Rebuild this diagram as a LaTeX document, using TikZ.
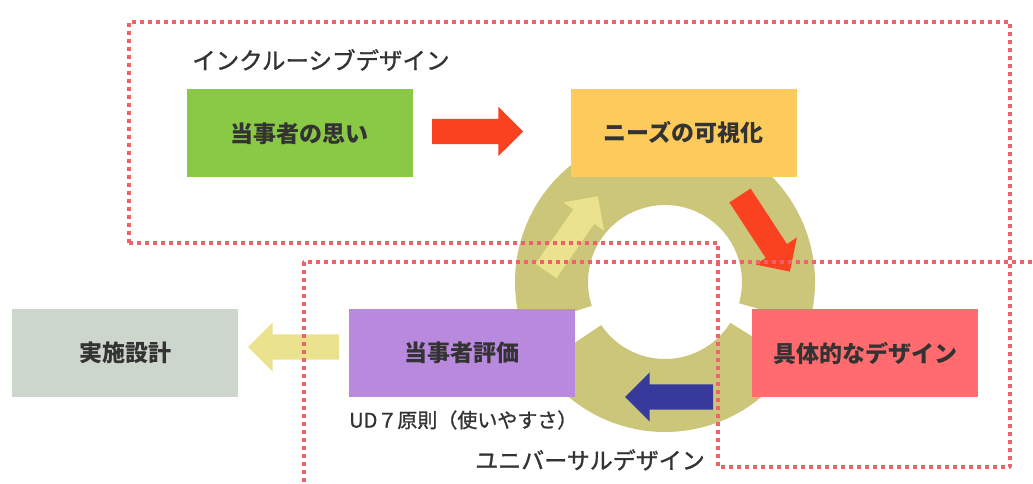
\documentclass[tikz,border=0pt]{standalone}
\usepackage{fontspec}
\setmainfont{Noto Sans CJK JP}
\newfontfamily\midfont[FakeBold=1.2]{Noto Sans CJK JP}
\usetikzlibrary{shapes.arrows}
\definecolor{ink}{RGB}{51,51,51}
\definecolor{leaf}{RGB}{138,201,70}
\definecolor{sun}{RGB}{253,203,92}
\definecolor{rose}{RGB}{255,107,110}
\definecolor{lilac}{RGB}{185,137,222}
\definecolor{sage}{RGB}{205,214,204}
\definecolor{ringcol}{RGB}{204,198,122}
\definecolor{arrred}{RGB}{250,66,32}
\definecolor{navy}{RGB}{55,58,155}
\definecolor{pale}{RGB}{234,226,140}
\definecolor{dotred}{RGB}{238,98,108}

\begin{document}
\begin{tikzpicture}[line join=round,x=1pt,y=1pt,
  box/.style={minimum width=226pt,minimum height=88pt,inner sep=0pt,text=ink,
    font=\fontsize{23}{23}\selectfont\bfseries},
  blk/.style={single arrow,minimum height=91pt,inner xsep=0pt,inner ysep=12.5pt,
    single arrow head extend=12pt,outer sep=0pt,anchor=tail},
  zone/.style={draw=dotred,line width=3.5pt,dash pattern=on 4pt off 4pt},
  lbl/.style={text=ink,inner sep=0pt,font=\fontsize{23.5}{23.5}\selectfont\midfont}]
\clip (0,0) rectangle (1033,484);
\fill[white] (0,0) rectangle (1033,484);
% ring
\coordinate (hub) at (665,202);
\fill[ringcol] ([shift={(-16:150)}]hub) arc(-16:198:150)
  -- ([shift={(198:77)}]hub) arc(198:-16:77) -- cycle;
\fill[ringcol] ([shift={(214:150)}]hub) arc(214:328:150)
  -- ([shift={(328:77)}]hub) arc(328:214:77) -- cycle;
% block arrows, placed by their tails
\node[blk,fill=arrred] (go) at (432,352.5) {};
\node[blk,fill=arrred,rotate=-56.8] (down) at (740,288.5) {};
\node[blk,fill=pale,rotate=55.3] (up) at (546,213) {};
\node[blk,fill=navy,rotate=180,minimum height=88pt] (back) at (713,87) {};
\node[blk,fill=pale,rotate=180] (out) at (339,137) {};
% dotted zones
\draw[zone] (129,241) -- (129,462) -- (1010,462) -- (1010,17) -- (718,17)
  -- (718,241) -- cycle;
\draw[zone] (1040,222) -- (304,222) -- (304,-10);
% boxes
\node[box,fill=leaf] (wish) at (299.5,350.5) {当事者の思い};
\node[box,fill=sun] (needs) at (683.5,351) {ニーズの可視化};
\node[box,fill=rose] (concrete) at (865,131) {具体的なデザイン};
\node[box,fill=lilac] (review) at (462,131) {当事者評価};
\node[box,fill=sage] (build) at (125,131) {実施設計};
% labels
\node[lbl,anchor=west] (incl) at (192,424) {インクルーシブデザイン};
\node[lbl,font=\fontsize{23}{23}\selectfont\midfont] (univ) at (590,24)
  {ユニバーサルデザイン};
\node[lbl,anchor=west,font=\fontsize{20}{20}\selectfont\midfont] (ud) at (349,64)
  {UD７原則（使いやすさ）};
\end{tikzpicture}
\end{document}
